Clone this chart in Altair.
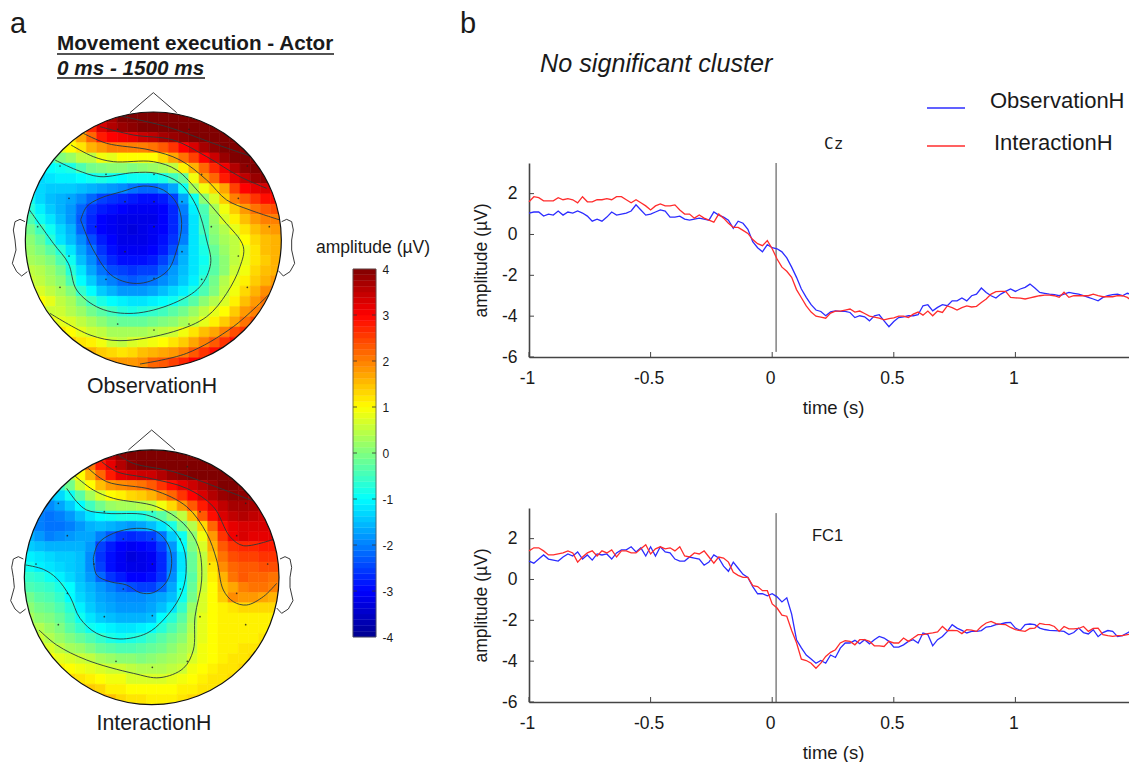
import altair as alt
import pandas as pd

FONT = "Liberation Sans"
INK = "#1a1a1a"

# Topographic maps: amplitude read per cell, row by row, centred on the head midline
OBS_ROWS = [
 [3.2,3.7,4,4,4,4,4,4,4,4,3.8],
 [2.0,2.7,3.3,3.6,3.8,3.9,4,4,4,4,4,4,4,4,4],
 [1.2,1.7,2.2,2.8,3.0,3.1,3.2,3.4,3.5,3.7,3.8,3.9,4,4,4,4,4],
 [0.8,1.0,1.2,1.6,1.8,2.0,2.0,2.0,2.0,2.1,2.3,2.6,3.0,3.3,3.7,3.9,4,4,3.9],
 [-0.5,0,0.2,0.5,0.5,0.9,0.8,1.0,1.0,1.0,1.0,1.3,1.7,2.1,2.5,3.0,3.4,3.8,4,4,3.9],
 [-1.1,-1.0,-0.9,-0.8,-0.4,-0.1,0,0.1,0.1,0,0.1,0.2,0.3,0.5,1.1,1.6,2.2,2.7,3.1,3.6,3.9,4,3.8],
 [-1.3,-1.2,-1.1,-1.1,-1.0,-0.9,-0.8,-0.9,-1.0,-0.9,-0.9,-0.9,-0.8,-0.5,-0.2,0.9,1.8,2.2,2.8,3.2,3.5,3.8,3.9],
 [-1.0,-1.3,-1.4,-1.4,-1.4,-1.5,-1.6,-1.7,-1.8,-1.9,-2.1,-2.2,-2.2,-2.0,-1.7,-0.9,0.3,0.9,1.3,1.7,2.5,3.0,3.2,3.3,3.0],
 [-0.9,-1.3,-1.5,-1.6,-1.7,-1.9,-2.2,-2.5,-2.6,-2.7,-2.8,-2.9,-2.9,-2.8,-2.5,-1.7,-0.9,0.1,0.7,1.4,2.0,2.3,2.6,2.9,2.9],
 [-0.7,-1.1,-1.4,-1.6,-1.8,-2.2,-2.6,-2.8,-2.9,-3.0,-3.1,-3.1,-3.1,-3.0,-2.7,-2.0,-1.1,-0.4,0.3,0.9,1.4,1.8,2.1,2.3,2.4],
 [-0.4,-0.9,-1.2,-1.5,-1.8,-2.3,-2.7,-3.0,-3.1,-3.2,-3.2,-3.2,-3.2,-3.0,-2.7,-2.1,-1.2,-0.5,0.2,0.7,1.1,1.5,1.8,2.0,2.0],
 [-0.1,-0.5,-0.9,-1.3,-1.6,-2.2,-2.7,-3.0,-3.1,-3.2,-3.3,-3.2,-3.1,-3.0,-2.7,-2.1,-1.2,-0.5,0.1,0.4,0.8,1.2,1.5,1.7,1.8],
 [0.1,-0.2,-0.7,-1.2,-1.5,-1.9,-2.4,-2.8,-3.0,-3.2,-3.2,-3.2,-3.1,-2.9,-2.6,-2.0,-1.2,-0.7,0,0.3,0.5,1.0,1.3,1.5,1.6],
 [0.2,0,-0.3,-0.7,-1.2,-1.7,-2.1,-2.6,-2.9,-3.1,-3.1,-3.1,-3.0,-2.8,-2.4,-1.7,-1.2,-0.8,-0.2,0.2,0.5,0.8,1.2,1.5,1.6],
 [0.3,0.2,0,-0.4,-0.9,-1.5,-1.9,-2.4,-2.7,-2.9,-2.9,-2.9,-2.8,-2.5,-2.1,-1.6,-1.2,-0.9,-0.3,0.1,0.5,0.8,1.2,1.4,1.6],
 [0.5,0.4,0.2,-0.1,-0.7,-1.2,-1.7,-2.1,-2.4,-2.5,-2.6,-2.5,-2.5,-2.2,-1.8,-1.5,-1.2,-0.8,-0.3,0.1,0.6,0.9,1.3,1.5,1.6],
 [0.6,0.5,0.3,0.1,-0.4,-1.0,-1.4,-1.8,-2.0,-2.2,-2.3,-2.2,-2.1,-1.9,-1.7,-1.4,-1.1,-0.6,-0.1,0.4,0.8,1.1,1.4,1.6,1.8],
 [0.7,0.7,0.5,0.3,0,-0.6,-1.0,-1.4,-1.6,-1.8,-1.8,-1.8,-1.7,-1.5,-1.3,-1.1,-0.8,-0.4,0,0.5,0.9,1.3,1.6,1.9,2.1],
 [1.0,0.8,0.5,0.3,-0.1,-0.5,-0.8,-1.0,-1.1,-1.2,-1.2,-1.1,-1.0,-0.9,-0.6,-0.3,0.1,0.4,0.7,1.1,1.5,1.8,2.1],
 [1.0,0.6,0.6,0.4,0.2,-0.1,-0.3,-0.5,-0.7,-0.8,-0.7,-0.6,-0.5,-0.3,-0.1,0.2,0.5,0.8,1.0,1.4,1.8,2.0,2.2],
 [0.9,0.8,0.7,0.5,0.3,0.1,-0.1,-0.2,-0.2,-0.2,-0.1,0,0.1,0.3,0.5,0.8,1.1,1.4,1.7,2.1,2.4],
 [1.2,1.0,0.8,0.6,0.5,0.3,0.3,0.3,0.3,0.4,0.5,0.6,0.9,1.2,1.5,1.7,2.0,2.4,2.6],
 [1.4,1.2,1.1,0.9,0.6,0.5,0.7,0.8,0.9,1.0,1.2,1.4,1.7,2.0,2.3,2.6,2.9],
 [1.7,1.6,1.4,1.3,1.2,1.3,1.5,1.6,1.7,1.8,2.0,2.3,2.6,2.9,3.1],
 [1.9,1.8,1.8,1.8,1.9,2.2,2.3,2.5,2.7,3.0,3.1],
]
INT_ROWS = [
 [3.0,3.6,3.9,4,4,4,4,4,4,4,4],
 [1.5,2.1,2.8,3.2,3.6,3.9,4,4,4,4,4,4,4,4,4],
 [0.4,1.0,1.6,2.2,2.8,3.2,3.3,3.4,3.4,3.6,3.8,3.9,4,4,4,4,4],
 [-0.6,-0.1,0.6,1.0,1.5,1.8,1.9,2.0,2.1,2.3,2.6,2.9,3.2,3.4,3.6,3.8,4,4,3.9],
 [-1.5,-1.3,-0.9,-0.3,0.3,0.7,1.0,1.1,1.3,1.4,1.6,1.9,2.2,2.6,3.0,3.3,3.6,3.8,3.9,3.9,3.7],
 [-1.9,-1.9,-1.7,-1.4,-1.0,-0.5,-0.1,0.2,0.3,0.3,0.4,0.5,0.9,1.3,1.8,2.3,2.8,3.2,3.5,3.7,3.7,3.7,3.5],
 [-2.0,-2.1,-2.0,-1.8,-1.5,-1.2,-1.0,-0.9,-0.8,-0.8,-0.8,-0.6,-0.3,0.1,0.5,1.5,2.3,2.9,3.3,3.5,3.6,3.5,3.4],
 [-1.8,-2.0,-2.1,-2.1,-2.0,-1.8,-1.6,-1.5,-1.6,-1.7,-1.8,-1.7,-1.5,-1.2,-0.8,-0.1,0.4,1.3,2.2,2.9,3.2,3.3,3.3,3.3,3.1],
 [-1.6,-1.8,-2.0,-1.9,-1.8,-1.7,-1.7,-2.0,-2.3,-2.6,-2.7,-2.6,-2.5,-2.1,-1.4,-0.9,0.1,0.9,1.8,2.6,3.1,3.3,3.2,3.2,3.2],
 [-1.4,-1.5,-1.6,-1.6,-1.6,-1.6,-1.8,-2.5,-2.8,-3.0,-3.1,-3.0,-2.9,-2.5,-1.8,-1.0,0,0.7,1.6,2.3,2.6,2.7,2.7,2.8,2.8],
 [-1.1,-1.2,-1.3,-1.4,-1.4,-1.5,-1.9,-2.6,-2.9,-3.1,-3.3,-3.2,-3.1,-2.7,-2.0,-1.2,-0.2,0.5,1.4,2.1,2.4,2.5,2.5,2.6,2.6],
 [-0.9,-1.1,-1.2,-1.3,-1.4,-1.5,-1.9,-2.5,-2.9,-3.1,-3.2,-3.2,-3.1,-2.7,-2.0,-1.2,-0.2,0.5,1.2,1.9,2.2,2.3,2.3,2.4,2.4],
 [-0.6,-0.7,-0.9,-1.1,-1.3,-1.5,-1.8,-2.2,-2.6,-2.8,-3.0,-3.0,-2.9,-2.6,-1.9,-1.1,-0.3,0.5,1.1,1.6,2.1,2.3,2.2,2.2,2.1],
 [-0.4,-0.5,-0.6,-0.8,-1.0,-1.4,-1.6,-1.8,-2.0,-2.2,-2.4,-2.5,-2.5,-2.2,-1.7,-1.0,-0.2,0.6,1.0,1.5,1.7,2.0,2.1,2.1,2.0],
 [-0.1,-0.3,-0.4,-0.6,-1.0,-1.3,-1.5,-1.7,-1.8,-1.9,-1.9,-1.9,-1.8,-1.7,-1.5,-0.9,-0.1,0.7,1.0,1.4,1.9,1.8,1.8,1.7,1.6],
 [0.1,-0.1,-0.2,-0.4,-0.7,-1.1,-1.4,-1.6,-1.7,-1.8,-1.8,-1.8,-1.7,-1.5,-1.2,-0.6,0.2,0.7,1.0,1.1,1.2,1.3,1.3,1.3,1.3],
 [0.3,0.1,0,-0.2,-0.5,-0.9,-1.2,-1.4,-1.5,-1.6,-1.6,-1.6,-1.5,-1.0,-0.7,-0.3,0.3,0.8,1.0,1.1,1.1,1.1,1.1,1.1,1.1],
 [0.5,0.4,0.2,0,-0.3,-0.6,-0.9,-1.0,-1.1,-1.2,-1.2,-1.1,-1.0,-0.7,-0.4,-0.1,0.4,0.8,1.0,1.1,1.1,1.1,1.1,1.1,1.1],
 [0.6,0.4,0.2,0,-0.2,-0.4,-0.6,-0.8,-0.9,-0.8,-0.7,-0.5,-0.3,-0.1,0.1,0.5,0.8,1.0,1.1,1.1,1.1,1.1,1.2],
 [0.9,0.7,0.5,0.3,0.2,0,-0.2,-0.3,-0.4,-0.4,-0.3,-0.2,-0.1,0.1,0.3,0.5,0.9,1.0,1.1,1.1,1.2,1.2,1.3],
 [1.0,0.8,0.7,0.6,0.5,0.3,0.2,0.1,0.1,0,0.1,0.2,0.3,0.4,0.7,0.9,1.0,1.1,1.2,1.2,1.3],
 [1.1,1.0,0.9,0.8,0.7,0.6,0.6,0.5,0.4,0.4,0.4,0.5,0.6,0.9,1.0,1.1,1.2,1.2,1.3],
 [1.3,1.2,1.1,1.0,0.9,0.9,0.7,0.7,0.7,0.7,0.8,0.9,1.0,1.1,1.2,1.2,1.3],
 [1.6,1.4,1.3,1.1,1.1,1.0,1.0,1.0,1.0,1.0,1.1,1.1,1.2,1.2,1.3],
 [1.7,1.5,1.3,1.2,1.2,1.1,1.1,1.1,1.2,1.3,1.4],
]
OBS_CONTOURS = [
 [(242,660),(260,620),(300,595),(365,575),(430,558),(490,570),(530,610),(545,670),(530,750),(500,815),(420,850),(340,830),(280,750),(242,660)],
 [(165,480),(230,510),(300,530),(400,518),(470,520),(540,550),(590,620),(620,720),(632,790),(600,860),(520,910),(400,940),(300,925),(230,870),(205,790),(160,730),(85,625)],
 [(213,435),(280,470),(340,485),(460,485),(530,510),(600,580),(670,660),(730,740),(720,800),(680,880),(620,950),(520,995),(360,1022),(270,1005),(150,940)],
 [(250,400),(320,430),(450,450),(540,480),(620,540),(680,600),(750,630),(840,660)],
 [(420,1092),(560,1060),(700,980),(810,880)],
 [(300,380),(400,405),(520,420),(620,470),(720,530),(800,565)],
 [(360,348),(500,380),(640,430),(750,468)],
]
INT_CONTOURS = [
 [(280,475),(295,430),(340,400),(410,385),(470,395),(505,435),(515,490),(500,545),(460,578),(420,578),(380,555),(330,545),(290,525),(280,475)],
 [(77,495),(130,508),(170,535),(210,590),(240,655),(290,700),(360,717),(440,700),(490,660),(540,590),(558,520),(550,440),(510,380),(440,345),(320,340),(260,330),(230,305),(200,265)],
 [(117,690),(170,735),(260,780),(400,820),(480,833),(550,805),(580,750),(585,650),(605,540),(595,440),(550,370),(470,320),(340,295),(280,270),(225,228)],
 [(265,205),(320,245),(460,270),(560,320),(620,400),(650,480),(670,570),(700,605),(740,615),(790,590),(830,550)],
 [(305,185),(350,215),(450,235),(560,265),(640,320),(690,410),(730,437),(820,418)],
 [(355,165),(400,190),(520,215),(660,265),(765,305)],
]
# Offsets from the head centre, in the same map units
ELECTRODES = [(-107,-332),(107,-332),(-280,-222),(-142,-197),(2,-197),(145,-197),(282,-222),(-253,-125),(-85,-115),(2,-115),(86,-115),(255,-125),(-347,-40),(-173,-40),(2,-40),(174,-40),(348,-40),(-253,48),(-85,35),(86,35),(255,48),(-142,118),(2,115),(145,118),(-280,142),(282,142),(-107,252),(2,270),(107,252)]
NOSE = [(-70,-382),(0,-442),(70,-382)]
EAR_LEFT = [(-385,-55),(-400,-62),(-415,-55),(-420,-30),(-415,0),(-412,30),(-423,70),(-410,95),(-395,108),(-378,95)]
EAR_RIGHT = [(385,-55),(400,-62),(415,-55),(420,-30),(415,0),(415,30),(424,70),(410,95),(390,108),(375,92)]

# ERP traces, 20 ms apart from -1 s
CZ_OBS = [1.05,1.1,1.1,0.9,1.0,0.95,1.15,0.95,1.1,1.05,1.15,1.05,0.9,0.65,0.75,0.65,0.85,1.1,0.95,1.0,1.05,1.15,1.45,1.2,0.95,1.0,1.1,1.2,1.15,0.85,0.85,0.9,0.75,0.7,0.75,0.8,0.75,0.7,1.1,0.95,0.85,0.7,0.3,0.65,0.55,0.25,-0.35,-0.65,-0.85,-0.5,-0.65,-0.7,-0.85,-1.15,-1.6,-2.1,-2.67,-3.08,-3.44,-3.7,-3.77,-3.98,-3.79,-3.74,-3.77,-3.77,-3.82,-4.07,-3.98,-4.03,-4.23,-3.98,-3.93,-4.23,-4.52,-4.26,-4.07,-4.03,-3.98,-3.98,-3.93,-3.49,-3.44,-3.74,-3.57,-3.44,-3.49,-3.25,-3.25,-3.11,-3.25,-3.0,-2.92,-2.62,-2.84,-3.0,-3.11,-2.92,-2.79,-2.67,-2.79,-2.67,-2.59,-2.43,-2.62,-2.84,-2.88,-2.92,-2.95,-3.0,-2.92,-2.84,-2.88,-2.92,-3.0,-3.08,-3.16,-3.25,-3.08,-3.0,-2.95,-2.92,-3.0,-2.88,-2.95,-2.84]
CZ_INT = [1.6,1.85,1.8,1.65,1.65,1.65,1.8,1.7,1.75,1.7,1.55,1.85,1.6,1.6,1.7,1.7,1.75,1.7,1.85,1.85,1.7,1.55,1.7,1.55,1.4,1.2,1.4,1.5,1.4,1.4,1.45,1.2,1.0,1.0,0.8,0.95,0.8,0.7,0.6,1.0,0.8,0.55,0.35,0.35,0.2,0.05,-0.25,-0.45,-0.55,-0.3,-0.7,-1.2,-1.6,-1.8,-2.1,-2.7,-3.1,-3.5,-3.8,-4.0,-4.05,-4.1,-3.85,-3.75,-3.75,-3.7,-3.65,-3.8,-3.75,-3.87,-4.0,-4.05,-4.1,-4.18,-4.12,-4.08,-4.0,-4.0,-4.07,-3.9,-3.8,-3.95,-3.75,-3.98,-3.75,-3.82,-3.5,-3.58,-3.7,-3.58,-3.5,-3.55,-3.52,-3.33,-3.16,-2.92,-2.8,-2.79,-2.79,-3.08,-3.1,-3.12,-3.16,-3.1,-3.05,-3.0,-2.97,-2.97,-3.0,-3.08,-2.83,-3.08,-3.0,-3.0,-3.0,-3.0,-2.92,-3.0,-3.05,-3.05,-3.05,-3.0,-3.0,-3.08,-3.25,-3.21]
FC1_OBS = [0.9,0.8,1.0,1.2,1.0,0.95,0.9,1.1,1.25,1.15,1.35,1.0,1.2,0.95,1.25,1.2,1.25,1.0,1.3,1.45,1.45,1.6,1.35,1.55,1.15,1.6,1.15,1.6,1.35,1.3,1.0,0.9,0.9,1.1,1.05,1.0,0.7,0.85,1.2,1.05,0.65,0.4,0.85,0.55,0.25,0.1,-0.35,-0.7,-0.7,-0.8,-0.7,-0.85,-1.1,-0.9,-1.7,-2.95,-3.35,-3.7,-3.9,-4.1,-3.97,-4.1,-3.7,-3.82,-3.36,-3.11,-3.11,-2.98,-3.15,-2.95,-3.15,-2.95,-2.79,-2.87,-3.03,-3.31,-3.31,-3.2,-3.03,-2.95,-3.11,-2.62,-2.7,-3.25,-2.95,-2.79,-2.54,-2.21,-2.38,-2.49,-2.62,-2.54,-2.54,-2.5,-2.33,-2.3,-2.21,-2.18,-2.12,-2.1,-2.38,-2.49,-2.21,-2.18,-2.21,-2.38,-2.45,-2.49,-2.5,-2.52,-2.54,-2.7,-2.6,-2.38,-2.6,-2.67,-2.46,-2.8,-2.6,-2.5,-2.54,-2.8,-2.75,-2.62,-2.49,-2.46]
FC1_INT = [1.4,1.55,1.55,1.4,1.2,1.2,1.25,1.3,1.4,1.3,0.85,1.1,1.3,1.4,1.15,1.4,1.3,1.45,1.1,1.4,1.4,1.3,1.3,1.5,1.7,1.25,1.5,1.6,1.5,1.55,1.4,1.6,1.15,1.1,1.3,1.25,1.4,1.1,0.8,1.1,1.05,0.85,0.35,0.2,0.1,0.1,-0.3,-0.35,-0.55,-0.55,-1.2,-1.4,-1.75,-1.8,-2.5,-3.1,-3.9,-3.97,-4.1,-4.35,-4.1,-3.77,-3.57,-3.44,-3.11,-3.0,-3.03,-3.2,-2.95,-2.95,-3.03,-3.25,-3.25,-3.28,-3.03,-3.11,-3.11,-2.87,-3.03,-2.87,-2.7,-2.7,-2.65,-2.62,-2.57,-2.3,-2.51,-2.49,-2.5,-2.65,-2.46,-2.48,-2.54,-2.3,-2.13,-2.05,-2.16,-2.2,-2.21,-2.35,-2.46,-2.5,-2.54,-2.4,-2.38,-2.15,-2.2,-2.21,-2.3,-2.54,-2.3,-2.42,-2.42,-2.4,-2.3,-2.54,-2.4,-2.38,-2.7,-2.75,-2.79,-2.75,-2.75,-2.7,-2.68,-2.67]

SERIES = ["ObservationH", "InteractionH"]
SERIES_COLORS = ["#2c2cff", "#ff2c2c"]
XTICKS = [-1, -0.5, 0, 0.5, 1]
YTICKS = [-6, -4, -2, 0, 2]
CBAR_TICKS = [-3, -2, -1, 0, 1, 2, 3]
CBAR_LABELS = [-4, -3, -2, -1, 0, 1, 2, 3, 4]
JET_STOPS = [-4, -3, -1, 1, 3, 4]
JET_COLORS = ["#00008f", "#0000ff", "#00ffff", "#ffff00", "#ff0000", "#800000"]
jet = alt.Scale(domain=JET_STOPS, range=JET_COLORS, interpolate="rgb", clamp=True)


def note(text, x, y, size, align="left", **kw):
    return alt.Chart(pd.DataFrame({"t": [text]})).mark_text(
        font=kw.pop("font", FONT), fontSize=size, align=align, baseline="middle",
        color=INK, **kw
    ).encode(x=alt.value(x), y=alt.value(y), text="t:N")


def underline(x0, x1, y):
    return alt.Chart(pd.DataFrame({"a": [0]})).mark_rule(color=INK, strokeWidth=1.6).encode(
        x=alt.value(x0), x2=alt.value(x1), y=alt.value(y))


def topo(rows, contours, left, top, cell, cx, cy, radius, ydom, height, extras):
    cells = []
    for j, row in enumerate(rows):
        start = (25 - len(row)) // 2
        for k, v in enumerate(row):
            i = start + k
            cells.append(dict(x0=left + i * cell, x1=left + (i + 1) * cell,
                              y0=top + j * cell, y1=top + (j + 1) * cell, v=v))
    xs = alt.Scale(domain=[24, 1059], nice=False, zero=False)
    ys = alt.Scale(domain=ydom, nice=False, zero=False, reverse=True)
    X = alt.X("x:Q", scale=xs, axis=None)
    Y = alt.Y("y:Q", scale=ys, axis=None)
    heat = alt.Chart(pd.DataFrame(cells)).mark_rect(strokeWidth=0.6).encode(
        x=alt.X("x0:Q", scale=xs, axis=None), x2="x1:Q",
        y=alt.Y("y0:Q", scale=ys, axis=None), y2="y1:Q",
        color=alt.Color("v:Q", scale=jet, legend=None),
        stroke=alt.Stroke("v:Q", scale=jet, legend=None),
    )
    lines = pd.DataFrame([dict(c=c, o=o, x=p[0], y=p[1])
                          for c, line in enumerate(contours) for o, p in enumerate(line)])
    cont = alt.Chart(lines).mark_line(color="#2a3a3a", strokeWidth=0.9, interpolate="catmull-rom").encode(
        x=X, y=Y, detail="c:N", order="o:Q")
    centre = pd.DataFrame({"x": [cx], "y": [cy]})
    px = radius / 3
    ring = alt.Chart(centre).mark_point(filled=False, color="white", strokeWidth=16, opacity=1,
                                        size=(2 * (px + 8)) ** 2).encode(x=X, y=Y)
    rim = alt.Chart(centre).mark_point(filled=False, color="#111", strokeWidth=1.2, opacity=1,
                                       size=(2 * px) ** 2).encode(x=X, y=Y)
    outline = pd.DataFrame(
        [dict(c=0, o=o, x=cx + p[0], y=cy + p[1]) for o, p in enumerate(NOSE)] +
        [dict(c=1, o=o, x=cx + p[0], y=cy + p[1]) for o, p in enumerate(EAR_LEFT)] +
        [dict(c=2, o=o, x=cx + p[0], y=cy + p[1]) for o, p in enumerate(EAR_RIGHT)])
    shape = alt.Chart(outline).mark_line(color="#222", strokeWidth=0.9).encode(
        x=X, y=Y, detail="c:N", order="o:Q")
    dots = alt.Chart(pd.DataFrame([dict(x=cx + p[0], y=cy + p[1]) for p in ELECTRODES])).mark_point(
        filled=True, color="#222", size=3, opacity=0.8).encode(x=X, y=Y)
    return alt.layer(heat, cont, ring, rim, shape, dots, *extras).properties(width=345, height=height)


obs_extras = [
    note("a", 2, 16, 29),
    note("Movement execution - Actor", 49, 36, 20.7, fontWeight="bold"),
    underline(49, 326, 46),
    note("0 ms - 1500 ms", 49, 61, 20.7, fontWeight="bold", fontStyle="italic"),
    underline(49, 197, 70),
    note("ObservationH", 144, 379, 21.3, align="center"),
]
int_extras = [note("InteractionH", 146, 316, 21.3, align="center")]
topo_a = topo(OBS_ROWS, OBS_CONTOURS, 75, 336, 30.72, 460, 720, 384, [24, 1224], 400, obs_extras)
topo_b = topo(INT_ROWS, INT_CONTOURS, 73, 150, 30.56, 455, 532, 382, [24, 1068], 348, int_extras)

# Colour bar: its own scale range runs past the first row of the grid
levels = [dict(lo=-4 + i / 8, hi=-4 + (i + 1) / 8, mid=-4 + (i + 0.5) / 8) for i in range(64)]
cy_scale = alt.Scale(domain=[-4, 4], range=[629, 261], nice=False, zero=False)
cbar_rect = alt.Chart(pd.DataFrame(levels)).mark_rect(strokeWidth=0.4).encode(
    y=alt.Y("lo:Q", scale=cy_scale, axis=alt.Axis(
        orient="right", offset=-153, values=CBAR_LABELS, title=None, grid=False, domain=False,
        tickSize=0, labelPadding=6, labelFontSize=12, labelFont=FONT, labelColor=INK,
        labelExpr="'' + datum.value")),
    y2="hi:Q",
    x=alt.value(0), x2=alt.value(23),
    color=alt.Color("mid:Q", scale=jet, legend=None),
    stroke=alt.Stroke("mid:Q", scale=jet, legend=None),
)
cbar_t = pd.DataFrame({"v": CBAR_TICKS})
cbar_l = alt.Chart(cbar_t).mark_rule(color="#333", strokeWidth=0.8).encode(
    y=alt.Y("v:Q", scale=cy_scale), x=alt.value(0), x2=alt.value(4))
cbar_r = alt.Chart(cbar_t).mark_rule(color="#333", strokeWidth=0.8).encode(
    y=alt.Y("v:Q", scale=cy_scale), x=alt.value(19), x2=alt.value(23))
cbar_frame = alt.Chart(pd.DataFrame({"a": [-4], "b": [4]})).mark_rect(
    fillOpacity=0, stroke="#555", strokeWidth=0.8).encode(
    y=alt.Y("a:Q", scale=cy_scale), y2="b:Q", x=alt.value(0), x2=alt.value(23))
cbar_panel = alt.layer(
    cbar_rect, cbar_l, cbar_r, cbar_frame,
    note("amplitude (µV)", 20, 240, 17.5, align="center"),
).properties(width=176, height=400)
blank = note(" ", 0, 0, 1).properties(width=176, height=348)


def erp(obs, inter, extras, plot_top, plot_bottom, height, rule_top, rule_bottom):
    rows = []
    for name, values in zip(SERIES, (obs, inter)):
        rows += [dict(t=round(-1 + 0.02 * i, 2), v=v, s=name) for i, v in enumerate(values)]
    xs = alt.Scale(domain=[-1, 1.5], nice=False, zero=False)
    ys = alt.Scale(domain=[-6, 3.5], range=[plot_bottom, plot_top], nice=False, zero=False)
    trace = alt.Chart(pd.DataFrame(rows)).mark_line(strokeWidth=1.3).encode(
        x=alt.X("t:Q", scale=xs, axis=alt.Axis(
            orient="bottom", offset=plot_bottom - height, labelFlush=False, labelOffset=-2,
            values=XTICKS, title="time (s)", grid=False, tickSize=0, domainWidth=1.6,
            domainColor="#444", labelPadding=12, labelFontSize=17.5, labelFont=FONT,
            labelColor=INK, labelExpr="'' + datum.value", titleFont=FONT, titleFontSize=18.5,
            titleFontWeight="normal", titleColor=INK, titlePadding=12)),
        y=alt.Y("v:Q", scale=ys, axis=alt.Axis(
            values=YTICKS, title="amplitude (µV)", grid=False, tickSize=0, domainWidth=1.6,
            domainColor="#444", labelPadding=12, labelFontSize=17.5, labelFont=FONT,
            labelColor=INK, labelExpr="'' + datum.value", titleFont=FONT, titleFontSize=17.5,
            titleFontWeight="normal", titleColor=INK, titlePadding=11)),
        color=alt.Color("s:N", scale=alt.Scale(domain=SERIES, range=SERIES_COLORS), legend=None),
        detail="s:N",
    )
    onset = alt.Chart(pd.DataFrame({"t": [0.016], "a": [rule_top], "b": [rule_bottom]})).mark_rule(
        color="#444", strokeWidth=1).encode(
        x=alt.X("t:Q", scale=xs), y=alt.Y("a:Q", scale=ys), y2="b:Q")
    xt = alt.Chart(pd.DataFrame({"t": XTICKS})).mark_rule(color="#444", strokeWidth=1).encode(
        x=alt.X("t:Q", scale=xs), y=alt.value(plot_bottom - 5), y2=alt.value(plot_bottom))
    yt = alt.Chart(pd.DataFrame({"v": YTICKS})).mark_rule(color="#444", strokeWidth=1).encode(
        y=alt.Y("v:Q", scale=ys), x=alt.value(0), x2=alt.value(5))
    return alt.layer(onset, xt, yt, trace, *extras).properties(width=608, height=height)


def legend_line(color, x0, x1, y):
    return alt.Chart(pd.DataFrame({"a": [0]})).mark_rule(color=color, strokeWidth=1.5).encode(
        x=alt.value(x0), x2=alt.value(x1), y=alt.value(y))


cz_extras = [
    note("b", -69, 16, 29),
    note("No significant cluster", 11, 56, 25.2, fontStyle="italic"),
    legend_line(SERIES_COLORS[0], 398, 436, 100),
    legend_line(SERIES_COLORS[1], 398, 436, 138),
    note("ObservationH", 461, 93, 22),
    note("InteractionH", 465, 135, 22),
    note("Cz", 295, 136, 16, font="DejaVu Sans Mono"),
]
cz = erp(CZ_OBS, CZ_INT, cz_extras, 155, 349, 400, 3.5, -5.75)
fc1 = erp(FC1_OBS, FC1_INT, [note("FC1", 283, 128, 16.5)], 100, 294, 348, 3.25, -6)

chart = alt.concat(topo_a, cbar_panel, cz, topo_b, blank, fc1, columns=3, spacing=0,
                   bounds="flush", align="each").properties(
    padding={"left": -24, "top": 0, "right": -11, "bottom": 0}, background="white"
).configure_view(stroke=None)

chart.save("out.html", embed_options={"renderer": "svg", "actions": False})
